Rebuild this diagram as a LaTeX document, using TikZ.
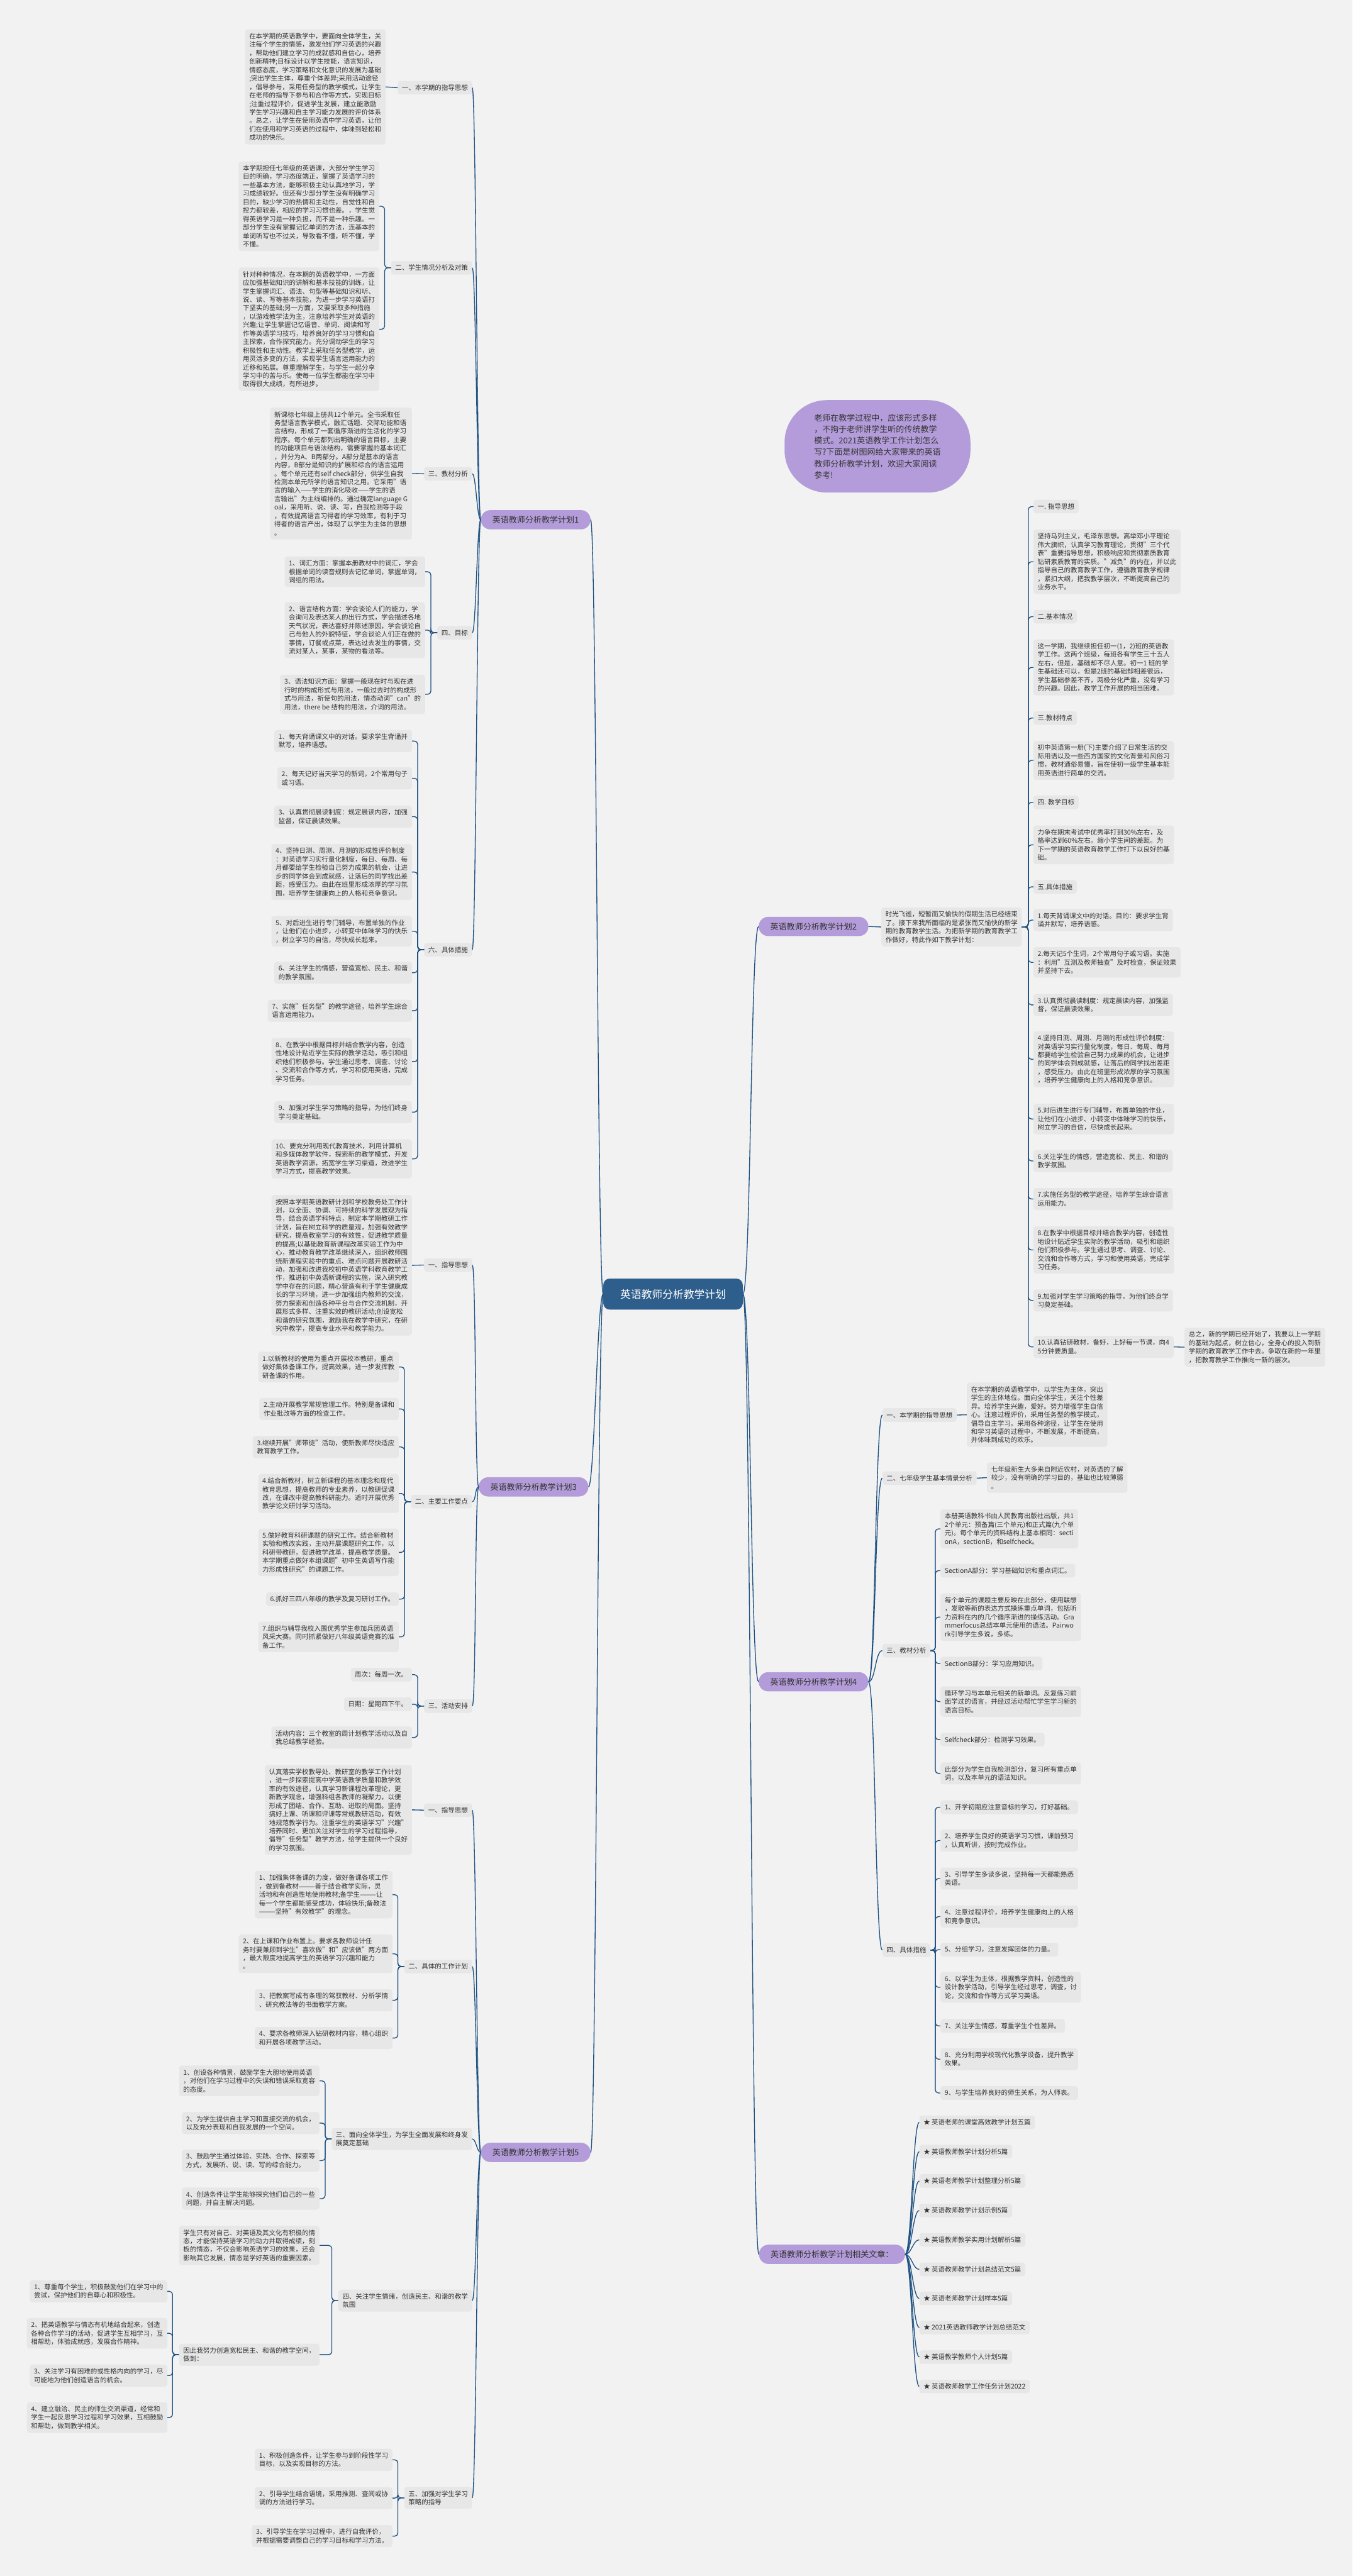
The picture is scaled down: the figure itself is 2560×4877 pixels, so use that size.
\documentclass[tikz,border=0pt]{standalone}
\usepackage{fontspec}
\setmainfont{Noto Sans CJK SC}
\definecolor{bgc}{HTML}{F2F2F2}
\definecolor{boxc}{HTML}{E7E7E7}
\definecolor{txtc}{HTML}{333333}
\definecolor{lavc}{HTML}{B39CD9}
\definecolor{rootc}{HTML}{2E5E8C}
\definecolor{linec}{HTML}{1F5282}
\tikzset{
  itm/.style={fill=boxc, rounded corners=5pt, inner xsep=8pt, inner ysep=7pt, align=left, text=txtc, font=\fontsize{12.5}{16}\selectfont},
  brn/.style={fill=lavc, rounded corners=18pt, inner xsep=22pt, inner ysep=11pt, text=txtc, font=\fontsize{15.5}{19}\selectfont},
  rootn/.style={fill=rootc, rounded corners=12pt, inner xsep=32pt, inner ysep=20pt, text=white, font=\fontsize{20}{24}\selectfont},
  cn/.style={draw=linec, line width=1.6pt},
  brk/.style={draw=linec, line width=1.6pt, rounded corners=6pt},
}
\begin{document}
\begin{tikzpicture}[x=1pt,y=-1pt]
\fill[bgc] (0,0) rectangle (2560,4877);
\useasboundingbox (0,0) rectangle (2560,4877);

% ---------- root and branches ----------
\node[rootn] (root) at (1274,2450) {英语教师分析教学计划};
\node[brn] (B1) at (1014,984) {英语教师分析教学计划1};
\node[brn] (B3) at (1010,2815) {英语教师分析教学计划3};
\node[brn] (B5) at (1014,4075) {英语教师分析教学计划5};
\node[brn] (B2) at (1540,1754) {英语教师分析教学计划2};
\node[brn] (B4) at (1540,3184) {英语教师分析教学计划4};
\node[brn] (B6) at (1575,4268) {英语教师分析教学计划相关文章：};
\node[fill=lavc, rounded corners=80pt, inner xsep=56pt, inner ysep=26pt, align=left, text=txtc, font=\fontsize{15.5}{21.7}\selectfont] (intro) at (1661,845) {老师在教学过程中，应该形式多样\\，不拘于老师讲学生听的传统教学\\模式。2021英语教学工作计划怎么\\写?下面是树图网给大家带来的英语\\教师分析教学计划，欢迎大家阅读\\参考!};

% ---------- branch 1 ----------
\node[itm,anchor=east] (a1) at (894,166) {一、本学期的指导思想};
\node[itm,anchor=east] (a1t) at (730,164.5) {在本学期的英语教学中，要面向全体学生，关\\注每个学生的情感，激发他们学习英语的兴趣\\，帮助他们建立学习的成就感和自信心，培养\\创新精神;目标设计以学生技能，语言知识，\\情感态度，学习策略和文化意识的发展为基础\\;突出学生主体，尊重个体差异;采用活动途径\\，倡导参与，采用任务型的教学模式，让学生\\在老师的指导下参与和合作等方式，实现目标\\;注重过程评价，促进学生发展，建立能激励\\学生学习兴趣和自主学习能力发展的评价体系\\。总之，让学生在使用英语中学习英语，让他\\们在使用和学习英语的过程中，体味到轻松和\\成功的快乐。};
\node[itm,anchor=east] (a2) at (894,507) {二、学生情况分析及对策};
\node[itm,anchor=east] (a2t1) at (718,390.5) {本学期担任七年级的英语课，大部分学生学习\\目的明确，学习态度端正，掌握了英语学习的\\一些基本方法，能够积极主动认真地学习，学\\习成绩较好。但还有少部分学生没有明确学习\\目的，缺少学习的热情和主动性，自觉性和自\\控力都较差，相应的学习习惯也差。，学生觉\\得英语学习是一种负担，而不是一种乐趣。一\\部分学生没有掌握记忆单词的方法，连基本的\\单词听写也不过关，导致看不懂，听不懂，学\\不懂。};
\node[itm,anchor=east] (a2t2) at (718,623.5) {针对种种情况，在本期的英语教学中，一方面\\应加强基础知识的讲解和基本技能的训练，让\\学生掌握词汇、语法、句型等基础知识和听、\\说、读、写等基本技能，为进一步学习英语打\\下坚实的基础;另一方面，又要采取多种措施\\，以游戏教学法为主，注意培养学生对英语的\\兴趣;让学生掌握记忆语音、单词、阅读和写\\作等英语学习技巧，培养良好的学习习惯和自\\主探索，合作探究能力。充分调动学生的学习\\积极性和主动性。教学上采取任务型教学，运\\用灵活多变的方法，实现学生语言运用能力的\\迁移和拓展。尊重理解学生，与学生一起分享\\学习中的苦与乐。使每一位学生都能在学习中\\取得很大成绩，有所进步。};
\node[itm,anchor=east] (a3) at (894,897) {三、教材分析};
\node[itm,anchor=east] (a3t) at (780,896.5) {新课标七年级上册共12个单元。全书采取任\\务型语言教学模式，融汇话题、交际功能和语\\言结构，形成了一套循序渐进的生活化的学习\\程序。每个单元都列出明确的语言目标，主要\\的功能项目与语法结构，需要掌握的基本词汇\\，并分为A、B两部分。A部分是基本的语言\\内容，B部分是知识的扩展和综合的语言运用\\。每个单元还有self check部分，供学生自我\\检测本单元所学的语言知识之用。它采用"语\\言的输入——学生的消化吸收——学生的语\\言输出"为主线编排的。通过确定language G\\oal，采用听、说、读、写，自我检测等手段\\，有效提高语言习得者的学习效率，有利于习\\得者的语言产出，体现了以学生为主体的思想\\。};
\node[itm,anchor=east] (a4) at (894,1198) {四、目标};
\node[itm,anchor=east] (a4g1) at (805,1082.5) {1、词汇方面：掌握本册教材中的词汇，学会\\根据单词的读音规则去记忆单词，掌握单词，\\词组的用法。};
\node[itm,anchor=east] (a4g2) at (805,1193) {2、语言结构方面：学会谈论人们的能力，学\\会询问及表达某人的出行方式，学会描述各地\\天气状况，表达喜好并陈述原因，学会谈论自\\己与他人的外貌特征，学会谈论人们正在做的\\事情，订餐或点菜，表达过去发生的事情，交\\流对某人，某事，某物的看法等。};
\node[itm,anchor=east] (a4g3) at (805,1314.5) {3、语法知识方面：掌握一般现在时与现在进\\行时的构成形式与用法，一般过去时的构成形\\式与用法，祈使句的用法，情态动词"can"的\\用法，there be 结构的用法，介词的用法。};
\node[itm,anchor=east] (a6) at (894,1798) {六、具体措施};
\node[itm,anchor=east] (a6m1) at (780,1403) {1、每天背诵课文中的对话。要求学生背诵并\\默写，培养语感。};
\node[itm,anchor=east] (a6m2) at (780,1473.5) {2、每天记好当天学习的新词，2个常用句子\\或习语。};
\node[itm,anchor=east] (a6m3) at (780,1546) {3、认真贯彻晨读制度：规定晨读内容，加强\\监督，保证晨读效果。};
\node[itm,anchor=east] (a6m4) at (780,1651) {4、坚持日测、周测、月测的形成性评价制度\\：对英语学习实行量化制度，每日、每周、每\\月都要给学生检验自己努力成果的机会，让进\\步的同学体会到成就感，让落后的同学找出差\\距，感受压力。由此在班里形成浓厚的学习氛\\围，培养学生健康向上的人格和竞争意识。};
\node[itm,anchor=east] (a6m5) at (780,1763) {5、对后进生进行专门辅导，布置单独的作业\\，让他们在小进步，小转变中体味学习的快乐\\，树立学习的自信，尽快成长起来。};
\node[itm,anchor=east] (a6m6) at (780,1841.5) {6、关注学生的情感，营造宽松、民主、和谐\\的教学氛围。};
\node[itm,anchor=east] (a6m7) at (780,1913.5) {7、实施"任务型"的教学途径，培养学生综合\\语言运用能力。};
\node[itm,anchor=east] (a6m8) at (780,2010) {8、在教学中根据目标并结合教学内容，创造\\性地设计贴近学生实际的教学活动，吸引和组\\织他们积极参与。学生通过思考、调查、讨论\\、交流和合作等方式，学习和使用英语，完成\\学习任务。};
\node[itm,anchor=east] (a6m9) at (780,2105.5) {9、加强对学生学习策略的指导，为他们终身\\学习奠定基础。};
\node[itm,anchor=east] (a6m10) at (780,2194) {10、要充分利用现代教育技术，利用计算机\\和多媒体教学软件，探索新的教学模式，开发\\英语教学资源，拓宽学生学习渠道，改进学生\\学习方式，提高教学效果。};

% ---------- branch 3 ----------
\node[itm,anchor=east] (c1) at (894,2395) {一、指导思想};
\node[itm,anchor=east] (c1t) at (780,2395.5) {按照本学期英语教研计划和学校教务处工作计\\划，以全面、协调、可持续的科学发展观为指\\导，结合英语学科特点，制定本学期教研工作\\计划，旨在树立科学的质量观，加强有效教学\\研究，提高教室学习的有效性，促进教学质量\\的提高;以基础教育新课程改革实验工作为中\\心，推动教育教学改革继续深入，组织教师围\\绕新课程实验中的重点、难点问题开展教研活\\动，加强和改进我校初中英语学科教育教学工\\作，推进初中英语新课程的实施，深入研究教\\学中存在的问题，精心营造有利于学生健康成\\长的学习环境，进一步加强组内教师的交流，\\努力探索和创造各种平台与合作交流机制，开\\展形式多样、注重实效的教研活动;创设宽松\\和谐的研究氛围，激励我在教学中研究，在研\\究中教学，提高专业水平和教学能力。};
\node[itm,anchor=east] (c2) at (894,2843) {二、主要工作要点};
\node[itm,anchor=east] (c2i1) at (755,2588) {1.以新教材的使用为重点开展校本教研，重点\\做好集体备课工作，提高效果，进一步发挥教\\研备课的作用。};
\node[itm,anchor=east] (c2i2) at (755,2667.5) {2.主动开展教学常规管理工作。特别是备课和\\作业批改等方面的检查工作。};
\node[itm,anchor=east] (c2i3) at (755,2739.5) {3.继续开展"师带徒"活动，使新教师尽快适应\\教育教学工作。};
\node[itm,anchor=east] (c2i4) at (755,2827.5) {4.结合新教材，树立新课程的基本理念和现代\\教育思想，提高教师的专业素养，以教研促课\\改，在课改中提高教科研能力。适时开展优秀\\教学论文研讨学习活动。};
\node[itm,anchor=east] (c2i5) at (755,2939) {5.做好教育科研课题的研究工作。结合新教材\\实验和教改实践，主动开展课题研究工作，以\\科研带教研，促进教学改革，提高教学质量。\\本学期重点做好本组课题"初中生英语写作能\\力形成性研究"的课题工作。};
\node[itm,anchor=east] (c2i6) at (755,3027.5) {6.抓好三四八年级的教学及复习研讨工作。};
\node[itm,anchor=east] (c2i7) at (755,3099) {7.组织与辅导我校入围优秀学生参加兵团英语\\风采大赛。同时抓紧做好八年级英语竞赛的准\\备工作。};
\node[itm,anchor=east] (c3) at (894,3230) {三、活动安排};
\node[itm,anchor=east] (c3i1) at (780,3170.5) {周次：每周一次。};
\node[itm,anchor=east] (c3i2) at (780,3226.5) {日期：星期四下午。};
\node[itm,anchor=east] (c3i3) at (780,3289.5) {活动内容：三个教室的周计划教学活动以及自\\我总结教学经验。};

% ---------- branch 5 ----------
\node[itm,anchor=east] (e1) at (894,3427) {一、指导思想};
\node[itm,anchor=east] (e1t) at (780,3426.5) {认真落实学校教导处、教研室的教学工作计划\\，进一步探索提高中学英语教学质量和教学效\\率的有效途径，认真学习新课程改革理论，更\\新教学观念，增强科组各教师的凝聚力，以便\\形成了团结、合作、互助、进取的局面。坚持\\搞好上课、听课和评课等常规教研活动，有效\\地规范教学行为。注重学生的英语学习"兴趣"\\培养同时、更加关注对学生的学习过程指导，\\倡导"任务型"教学方法，给学生提供一个良好\\的学习氛围。};
\node[itm,anchor=east] (e2) at (894,3723) {二、具体的工作计划};
\node[itm,anchor=east] (e2i1) at (743,3587) {1、加强集体备课的力度，做好备课各项工作\\，做到备教材———善于结合教学实际，灵\\活地和有创造性地使用教材;备学生———让\\每一个学生都能感受成功，体验快乐;备教法\\———坚持"有效教学"的理念。};
\node[itm,anchor=east] (e2i2) at (743,3699) {2、在上课和作业布置上。要求各教师设计任\\务时要兼顾到学生"喜欢做"和"应该做"两方面\\，最大限度地提高学生的英语学习兴趣和能力\\。};
\node[itm,anchor=east] (e2i3) at (743,3787) {3、把教案写成有条理的驾驭教材、分析学情\\、研究教法等的书面教学方案。};
\node[itm,anchor=east] (e2i4) at (743,3858.5) {4、要求各教师深入钻研教材内容，精心组织\\和开展各项教学活动。};
\node[itm,anchor=east] (e3) at (894,4049.5) {三、面向全体学生，为学生全面发展和终身发\\展奠定基础};
\node[itm,anchor=east] (e3i1) at (605,3939.5) {1、创设各种情景，鼓励学生大胆地使用英语\\，对他们在学习过程中的失误和错误采取宽容\\的态度。};
\node[itm,anchor=east] (e3i2) at (605,4019.5) {2、为学生提供自主学习和直接交流的机会，\\以及充分表现和自我发展的一个空间。};
\node[itm,anchor=east] (e3i3) at (605,4090.5) {3、鼓励学生通过体验、实践、合作、探索等\\方式，发展听、说、读、写的综合能力。};
\node[itm,anchor=east] (e3i4) at (605,4162.5) {4、创造条件让学生能够探究他们自己的一些\\问题，并自主解决问题。};
\node[itm,anchor=east] (e4) at (894,4355.5) {四、关注学生情绪，创造民主、和谐的教学\\氛围};
\node[itm,anchor=east] (e4t) at (605,4251) {学生只有对自己、对英语及其文化有积极的情\\态，才能保持英语学习的动力并取得成绩，刻\\板的情态，不仅会影响英语学习的效果，还会\\影响其它发展，情态是学好英语的重要因素。};
\node[itm,anchor=east] (e4b) at (605,4458) {因此我努力创造宽松民主、和谐的教学空间，\\做到：};
\node[itm,anchor=east] (e4s1) at (317,4338) {1、尊重每个学生，积极鼓励他们在学习中的\\尝试，保护他们的自尊心和积极性。};
\node[itm,anchor=east] (e4s2) at (317,4417.5) {2、把英语教学与情态有机地结合起来，创造\\各种合作学习的活动，促进学生互相学习，互\\相帮助，体验成就感，发展合作精神。};
\node[itm,anchor=east] (e4s3) at (317,4497.5) {3、关注学习有困难的或性格内向的学习，尽\\可能地为他们创造语言的机会。};
\node[itm,anchor=east] (e4s4) at (317,4577) {4、建立融洽、民主的师生交流渠道，经常和\\学生一起反思学习过程和学习效果，互相鼓励\\和帮助，做到教学相关。};
\node[itm,anchor=east] (e5) at (894,4729) {五、加强对学生学习\\策略的指导};
\node[itm,anchor=east] (e5i1) at (743,4657) {1、积极创造条件，让学生参与到阶段性学习\\目标，以及实现目标的方法。};
\node[itm,anchor=east] (e5i2) at (743,4729.5) {2、引导学生结合语境，采用推测、查阅或协\\调的方法进行学习。};
\node[itm,anchor=east] (e5i3) at (743,4801.5) {3、引导学生在学习过程中，进行自我评价，\\并根据需要调整自己的学习目标和学习方法。};

% ---------- branch 2 ----------
\node[itm,anchor=west] (b0) at (1668,1755) {时光飞逝，短暂而又愉快的假期生活已经结束\\了。接下来我所面临的是紧张而又愉快的新学\\期的教育教学生活。为把新学期的教育教学工\\作做好，特此作如下教学计划：};
\node[itm,anchor=west] (b1h) at (1956,959) {一. 指导思想};
\node[itm,anchor=west] (b1t) at (1956,1063.5) {坚持马列主义，毛泽东思想。高举邓小平理论\\伟大旗帜，认真学习教育理论，贯彻"三个代\\表"重要指导思想，积极响应和贯彻素质教育\\钻研素质教育的实质。"减负"的内在，并以此\\指导自己的教育教学工作，遵循教育教学规律\\，紧扣大纲，把我教学层次，不断提高自己的\\业务水平。};
\node[itm,anchor=west] (b2h) at (1956,1167.5) {二.基本情况};
\node[itm,anchor=west] (b2t) at (1956,1263.5) {这一学期，我继续担任初一(1，2)班的英语教\\学工作。这两个班级，每班各有学生三十五人\\左右，但是，基础却不尽人意。初一1 班的学\\生基础还可以，但是2班的基础却相差很远，\\学生基础参差不齐，两极分化严重，没有学习\\的兴趣。因此，教学工作开展的相当困难。};
\node[itm,anchor=west] (b3h) at (1956,1359.5) {三.教材特点};
\node[itm,anchor=west] (b3t) at (1956,1439.5) {初中英语第一册(下)主要介绍了日常生活的交\\际用语以及一些西方国家的文化背景和风俗习\\惯，教材通俗易懂，旨在使初一级学生基本能\\用英语进行简单的交流。};
\node[itm,anchor=west] (b4h) at (1956,1519) {四. 教学目标};
\node[itm,anchor=west] (b4t) at (1956,1599.5) {力争在期末考试中优秀率打到30\%左右，及\\格率达到60\%左右。缩小学生间的差距。为\\下一学期的英语教育教学工作打下以良好的基\\础。};
\node[itm,anchor=west] (b5h) at (1956,1679) {五.具体措施};
\node[itm,anchor=west] (bm1) at (1956,1742) {1.每天背诵课文中的对话。目的：要求学生背\\诵并默写，培养语感。};
\node[itm,anchor=west] (bm2) at (1956,1822) {2.每天记5个生词，2个常用句子或习语。实施\\：利用"互测及教师抽查"及时检查，保证效果\\并坚持下去。};
\node[itm,anchor=west] (bm3) at (1956,1902.5) {3.认真贯彻晨读制度：规定晨读内容，加强监\\督，保证晨读效果。};
\node[itm,anchor=west] (bm4) at (1956,2005.5) {4.坚持日测、周测、月测的形成性评价制度：\\对英语学习实行量化制度，每日、每周、每月\\都要给学生检验自己努力成果的机会，让进步\\的同学体会到成就感，让落后的同学找出差距\\，感受压力。由此在班里形成浓厚的学习氛围\\，培养学生健康向上的人格和竞争意识。};
\node[itm,anchor=west] (bm5) at (1956,2118.5) {5.对后进生进行专门辅导，布置单独的作业，\\让他们在小进步、小转变中体味学习的快乐，\\树立学习的自信，尽快成长起来。};
\node[itm,anchor=west] (bm6) at (1956,2198) {6.关注学生的情感，营造宽松、民主、和谐的\\教学氛围。};
\node[itm,anchor=west] (bm7) at (1956,2270) {7.实施任务型的教学途径，培养学生综合语言\\运用能力。};
\node[itm,anchor=west] (bm8) at (1956,2366.5) {8.在教学中根据目标并结合教学内容，创造性\\地设计贴近学生实际的教学活动，吸引和组织\\他们积极参与。学生通过思考、调查、讨论、\\交流和合作等方式，学习和使用英语，完成学\\习任务。};
\node[itm,anchor=west] (bm9) at (1956,2462) {9.加强对学生学习策略的指导，为他们终身学\\习奠定基础。};
\node[itm,anchor=west] (bm10) at (1956,2550) {10.认真钻研教材，备好，上好每一节课，向4\\5分钟要质量。};
\node[itm,anchor=west] (bz) at (2242,2550.5) {总之，新的学期已经开始了，我要以上一学期\\的基础为起点，树立信心，全身心的投入到新\\学期的教育教学工作中去。争取在新的一年里\\，把教育教学工作推向一新的层次。};

% ---------- branch 4 ----------
\node[itm,anchor=west] (d1) at (1670,2679) {一、本学期的指导思想};
\node[itm,anchor=west] (d1t) at (1830,2678.5) {在本学期的英语教学中，以学生为主体，突出\\学生的主体地位。面向全体学生，关注个性差\\异。培养学生兴趣，爱好。努力增强学生自信\\心。注意过程评价，采用任务型的教学模式，\\倡导自主学习。采用各种途径，让学生在使用\\和学习英语的过程中，不断发展，不断提高，\\并体味到成功的欢乐。};
\node[itm,anchor=west] (d2) at (1670,2798.5) {二、七年级学生基本情景分析};
\node[itm,anchor=west] (d2t) at (1868,2797.5) {七年级新生大多来自附近农村，对英语的了解\\较少，没有明确的学习目的，基础也比较薄弱\\。};
\node[itm,anchor=west] (d3) at (1670,3125) {三、教材分析};
\node[itm,anchor=west] (d3a) at (1780,2894.5) {本册英语教科书由人民教育出版社出版，共1\\2个单元：预备篇(三个单元)和正式篇(九个单\\元)。每个单元的资料结构上基本相同：secti\\onA，sectionB，和selfcheck。};
\node[itm,anchor=west] (d3b) at (1780,2973.5) {SectionA部分：学习基础知识和重点词汇。};
\node[itm,anchor=west] (d3c) at (1780,3061.5) {每个单元的课题主要反映在此部分，使用联想\\，发散等新的表达方式操练重点单词，包括听\\力资料在内的几个循序渐进的操练活动。Gra\\mmerfocus总结本单元使用的语法。Pairwo\\rk引导学生多说，多练。};
\node[itm,anchor=west] (d3d) at (1780,3149.5) {SectionB部分：学习应用知识。};
\node[itm,anchor=west] (d3e) at (1780,3221.5) {循环学习与本单元相关的新单词。反复练习前\\面学过的语言，并经过活动帮忙学生学习新的\\语言目标。};
\node[itm,anchor=west] (d3f) at (1780,3293.5) {Selfcheck部分：检测学习效果。};
\node[itm,anchor=west] (d3g) at (1780,3357.5) {此部分为学生自我检测部分，复习所有重点单\\词，以及本单元的语法知识。};
\node[itm,anchor=west] (d4) at (1670,3692) {四、具体措施};
\node[itm,anchor=west] (d4a) at (1780,3421.5) {1、开学初期应注意音标的学习，打好基础。};
\node[itm,anchor=west] (d4b) at (1780,3484.5) {2、培养学生良好的英语学习习惯，课前预习\\，认真听讲，按时完成作业。};
\node[itm,anchor=west] (d4c) at (1780,3556.5) {3、引导学生多读多说，坚持每一天都能熟悉\\英语。};
\node[itm,anchor=west] (d4d) at (1780,3628.5) {4、注意过程评价，培养学生健康向上的人格\\和竞争意识。};
\node[itm,anchor=west] (d4e) at (1780,3691) {5、分组学习，注意发挥团体的力量。};
\node[itm,anchor=west] (d4f) at (1780,3762.5) {6、以学生为主体，根据教学资料，创造性的\\设计教学活动，引导学生经过思考，调查，讨\\论，交流和合作等方式学习英语。};
\node[itm,anchor=west] (d4g) at (1780,3835.5) {7、关注学生情感，尊重学生个性差异。};
\node[itm,anchor=west] (d4h) at (1780,3898.5) {8、充分利用学校现代化教学设备，提升教学\\效果。};
\node[itm,anchor=west] (d4i) at (1780,3962.5) {9、与学生培养良好的师生关系，为人师表。};

% ---------- related ----------
\node[itm,anchor=west] (r1) at (1740,4018) {★ 英语老师的课堂高效教学计划五篇};
\node[itm,anchor=west] (r2) at (1740,4073.5) {★ 英语教师教学计划分析5篇};
\node[itm,anchor=west] (r3) at (1740,4129) {★ 英语老师教学计划整理分析5篇};
\node[itm,anchor=west] (r4) at (1740,4185) {★ 英语教师教学计划示例5篇};
\node[itm,anchor=west] (r5) at (1740,4240.5) {★ 英语教师教学实用计划解析5篇};
\node[itm,anchor=west] (r6) at (1740,4296.5) {★ 英语教师教学计划总结范文5篇};
\node[itm,anchor=west] (r7) at (1740,4351.5) {★ 英语老师教学计划样本5篇};
\node[itm,anchor=west] (r8) at (1740,4406.5) {★ 2021英语教师教学计划总结范文};
\node[itm,anchor=west] (r9) at (1740,4462.5) {★ 英语教学教师个人计划5篇};
\node[itm,anchor=west] (r10) at (1740,4518) {★ 英语教师教学工作任务计划2022};

% ---------- connectors ----------
\foreach \n in {B1,B3,B5} \draw[cn] (root.west) .. controls +(-11,0) and +(11,0) .. (\n.east);
\foreach \n in {B2,B4,B6} \draw[cn] (root.east) .. controls +(15,0) and +(-15,0) .. (\n.west);

\foreach \n in {a1,a2,a3,a4,a6} \draw[cn] (B1.west) .. controls +(-7,0) and +(7,0) .. (\n.east);
\draw[cn] (a1.west) -- (a1t.east);
\foreach \n in {a2t1,a2t2} \draw[brk] (a2.west) -- ++(-12,0) |- (\n.east);
\draw[cn] (a3.west) -- (a3t.east);
\foreach \n in {a4g1,a4g2,a4g3} \draw[brk] (a4.west) -- ++(-12,0) |- (\n.east);
\foreach \n in {a6m1,a6m2,a6m3,a6m4,a6m5,a6m6,a6m7,a6m8,a6m9,a6m10} \draw[brk] (a6.west) -- ++(-12,0) |- (\n.east);

\foreach \n in {c1,c2,c3} \draw[cn] (B3.west) .. controls +(-7,0) and +(7,0) .. (\n.east);
\draw[cn] (c1.west) -- (c1t.east);
\foreach \n in {c2i1,c2i2,c2i3,c2i4,c2i5,c2i6,c2i7} \draw[brk] (c2.west) -- ++(-12,0) |- (\n.east);
\foreach \n in {c3i1,c3i2,c3i3} \draw[brk] (c3.west) -- ++(-12,0) |- (\n.east);

\foreach \n in {e1,e2,e3,e4,e5} \draw[cn] (B5.west) .. controls +(-7,0) and +(7,0) .. (\n.east);
\draw[cn] (e1.west) -- (e1t.east);
\foreach \n in {e2i1,e2i2,e2i3,e2i4} \draw[brk] (e2.west) -- ++(-12,0) |- (\n.east);
\foreach \n in {e3i1,e3i2,e3i3,e3i4} \draw[brk] (e3.west) -- ++(-12,0) |- (\n.east);
\foreach \n in {e4t,e4b} \draw[brk] (e4.west) -- ++(-12,0) |- (\n.east);
\foreach \n in {e4s1,e4s2,e4s3,e4s4} \draw[brk] (e4b.west) -- ++(-12,0) |- (\n.east);
\foreach \n in {e5i1,e5i2,e5i3} \draw[brk] (e5.west) -- ++(-12,0) |- (\n.east);

\draw[cn] (B2.east) -- (b0.west);
\foreach \n in {b1h,b1t,b2h,b2t,b3h,b3t,b4h,b4t,b5h,bm1,bm2,bm3,bm4,bm5,bm6,bm7,bm8,bm9,bm10} \draw[brk] (b0.east) -- ++(12,0) |- (\n.west);
\draw[cn] (bm10.east) -- (bz.west);

\foreach \n in {d1,d2,d3,d4} \draw[cn] (B4.east) .. controls +(13,0) and +(-13,0) .. (\n.west);
\draw[cn] (d1.east) -- (d1t.west);
\draw[cn] (d2.east) -- (d2t.west);
\foreach \n in {d3a,d3b,d3c,d3d,d3e,d3f,d3g} \draw[brk] (d3.east) -- ++(9,0) |- (\n.west);
\foreach \n in {d4a,d4b,d4c,d4d,d4e,d4f,d4g,d4h,d4i} \draw[brk] (d4.east) -- ++(9,0) |- (\n.west);

\foreach \n in {r1,r2,r3,r4,r5,r6,r7,r8,r9,r10} \draw[cn] (B6.east) .. controls +(12,0) and +(-12,0) .. (\n.west);
\end{tikzpicture}
\end{document}
